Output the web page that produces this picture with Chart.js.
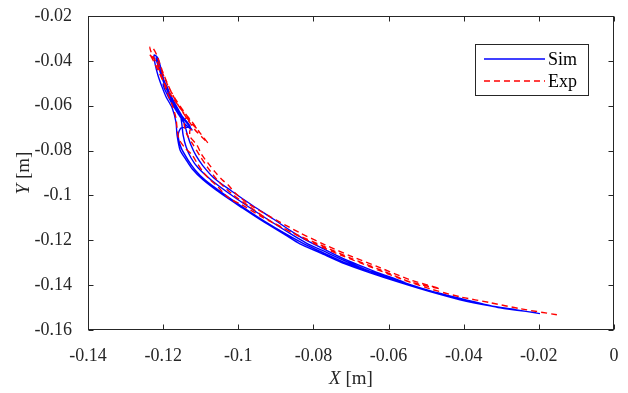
<!DOCTYPE html>
<html>
<head>
<meta charset="utf-8">
<script src="https://cdn.jsdelivr.net/npm/chart.js@4/dist/chart.umd.min.js"></script>
<style>
html,body{margin:0;padding:0;background:#fff;}
canvas{display:block;}
</style>
</head>
<body>
<canvas id="c" width="628" height="393"></canvas>
<script>
// ---- data ----
const seriesNames = ['Sim', 'Exp'];
const xTickValues = [-0.14, -0.12, -0.1, -0.08, -0.06, -0.04, -0.02, 0];
const xTickLabels = ['-0.14', '-0.12', '-0.1', '-0.08', '-0.06', '-0.04', '-0.02', '0'];
const yTickValues = [-0.16, -0.14, -0.12, -0.1, -0.08, -0.06, -0.04, -0.02];
const yTickLabels = ['-0.16', '-0.14', '-0.12', '-0.1', '-0.08', '-0.06', '-0.04', '-0.02'];
const xTitle = ['X', ' [m]'];
const yTitle = ['Y', ' [m]'];

const simX = [
  -0.0197,-0.0263,-0.0330,-0.0410,-0.0490,-0.0569,-0.0649,-0.0716,-0.0782,-0.0836,-0.0876,-0.0937,-0.0990,-0.1049,-0.1094,-0.1123,-0.1139,-0.1155,-0.1163,-0.1166,
  -0.1176,-0.1192,-0.1203,-0.1214,-0.1222,-0.1224,-0.1216,-0.1211,-0.1203,-0.1192,-0.1179,-0.1163,-0.1144,-0.1123,-0.1142,-0.1160,-0.1179,-0.1195,-0.1200,-0.1192,-0.1182,-0.1168,-0.1155,-0.1150,
  -0.1147,-0.1139,-0.1126,-0.1107,-0.1073,-0.1027,-0.0969,-0.0916,-0.0857,-0.0820,-0.0769,-0.0705,-0.0639,-0.0556,
  -0.0641,-0.0708,-0.0769,-0.0817,-0.0852,-0.0908,-0.0961,-0.1019,-0.1065,-0.1094,-0.1112,-0.1126,-0.1136,-0.1144,-0.1158,
  -0.1176,-0.1190,-0.1203,-0.1214,-0.1219,-0.1214,-0.1206,-0.1198,-0.1184,-0.1168,-0.1150,-0.1128,-0.1152,
  -0.1160,-0.1152,-0.1134,-0.1115,-0.1089,-0.1043,-0.0985,-0.0932,-0.0870,-0.0830,-0.0780,-0.0716,-0.0663,-0.0596,-0.0490,-0.0396,-0.0303,-0.0207];
const simY = [
  -0.1527,-0.1509,-0.1492,-0.1465,-0.1429,-0.1389,-0.1345,-0.1305,-0.1256,-0.1216,-0.1175,-0.1113,-0.1055,-0.0988,-0.0930,-0.0881,-0.0841,-0.0797,-0.0730,-0.0672,
  -0.0610,-0.0561,-0.0516,-0.0463,-0.0409,-0.0374,-0.0383,-0.0427,-0.0472,-0.0521,-0.0574,-0.0619,-0.0663,-0.0708,-0.0681,-0.0636,-0.0583,-0.0530,-0.0503,-0.0507,-0.0547,-0.0592,-0.0636,-0.0685,
  -0.0730,-0.0783,-0.0832,-0.0877,-0.0930,-0.0988,-0.1055,-0.1113,-0.1175,-0.1211,-0.1251,-0.1300,-0.1345,-0.1389,
  -0.1336,-0.1291,-0.1242,-0.1202,-0.1167,-0.1104,-0.1046,-0.0979,-0.0922,-0.0868,-0.0824,-0.0775,-0.0726,-0.0677,-0.0628,
  -0.0574,-0.0530,-0.0476,-0.0418,-0.0387,-0.0387,-0.0432,-0.0485,-0.0539,-0.0592,-0.0645,-0.0694,-0.0699,
  -0.0730,-0.0788,-0.0841,-0.0886,-0.0930,-0.0988,-0.1055,-0.1113,-0.1175,-0.1211,-0.1251,-0.1300,-0.1331,-0.1367,-0.1425,-0.1465,-0.1501,-0.1523];

const expX = [-0.0152,-0.0250,-0.0330,-0.0410,-0.0490,-0.0569,-0.0649,-0.0729,-0.0796,-0.0862,-0.0942,-0.0990,-0.1017,-0.1035,-0.1054,-0.1075,-0.1094,-0.1110,-0.1123,-0.1142,
  -0.1158,-0.1163,-0.1166,-0.1176,-0.1192,-0.1208,-0.1222,-0.1232,-0.1235,-0.1227,-0.1216,-0.1203,-0.1187,-0.1168,-0.1152,-0.1134,-0.1115,-0.1097,-0.1081,
  -0.1102,-0.1123,-0.1144,-0.1166,-0.1187,-0.1203,-0.1216,-0.1232,-0.1238,-0.1230,-0.1214,-0.1195,-0.1176,-0.1155,-0.1136,-0.1120,-0.1112,-0.1128,
  -0.1128,-0.1110,-0.1097,-0.1081,-0.1062,-0.1043,-0.1027,-0.1009,-0.0977,-0.0942,-0.0900,-0.0836,-0.0769,-0.0697,-0.0623,-0.0543,-0.0463,
  -0.0543,-0.0623,-0.0703,-0.0782,-0.0849,-0.0916,-0.0969,-0.1017,-0.1054,-0.1081,-0.1102,-0.1120,-0.1136,-0.1144,-0.1139,-0.1123,-0.1107];
const expY = [-0.1532,-0.1505,-0.1478,-0.1452,-0.1416,-0.1371,-0.1318,-0.1265,-0.1216,-0.1162,-0.1091,-0.1042,-0.1020,-0.0997,-0.0962,-0.0930,-0.0895,-0.0855,-0.0819,-0.0788,
  -0.0748,-0.0699,-0.0654,-0.0596,-0.0530,-0.0449,-0.0396,-0.0360,-0.0338,-0.0343,-0.0378,-0.0441,-0.0507,-0.0574,-0.0619,-0.0663,-0.0708,-0.0739,-0.0766,
  -0.0721,-0.0672,-0.0628,-0.0574,-0.0512,-0.0449,-0.0405,-0.0378,-0.0369,-0.0387,-0.0441,-0.0507,-0.0561,-0.0610,-0.0650,-0.0685,-0.0699,-0.0708,
  -0.0739,-0.0775,-0.0819,-0.0855,-0.0895,-0.0930,-0.0953,-0.0988,-0.1033,-0.1069,-0.1109,-0.1167,-0.1220,-0.1273,-0.1322,-0.1376,-0.1416,
  -0.1385,-0.1331,-0.1278,-0.1220,-0.1171,-0.1113,-0.1051,-0.0993,-0.0935,-0.0877,-0.0824,-0.0775,-0.0730,-0.0685,-0.0654,-0.0681,-0.0708];

// ---- styling ----
const FONT = '"Liberation Serif", "Times New Roman", serif';
const AXIS_COLOR = '#262626';
const toPts = (xs, ys) => xs.map((v, i) => ({x: v, y: ys[i]}));

const framePlugin = {
  id: 'frame',
  afterDraw(chart) {
    const {ctx, chartArea, scales} = chart;
    const {left, right, top, bottom} = chartArea;
    const L = Math.round(left) + 0.5, R = Math.round(right) - 0.5;
    const T = Math.round(top) + 0.5, B = Math.round(bottom) - 0.5;
    ctx.save();
    ctx.strokeStyle = AXIS_COLOR;
    ctx.lineWidth = 1;
    ctx.strokeRect(L, T, R - L, B - T);
    const tl = 5;
    ctx.beginPath();
    scales.x.ticks.forEach(t => {
      const px = Math.round(scales.x.getPixelForValue(t.value)) + 0.5;
      ctx.moveTo(px, B); ctx.lineTo(px, B - tl);
      ctx.moveTo(px, T); ctx.lineTo(px, T + tl);
    });
    scales.y.ticks.forEach(t => {
      const py = Math.round(scales.y.getPixelForValue(t.value)) + 0.5;
      ctx.moveTo(L, py); ctx.lineTo(L + tl, py);
      ctx.moveTo(R, py); ctx.lineTo(R - tl, py);
    });
    ctx.stroke();

    // axis titles (italic variable + upright unit)
    ctx.fillStyle = AXIS_COLOR;
    ctx.textBaseline = 'alphabetic';
    const drawTitle = (parts, cx, cy) => {
      ctx.font = 'italic 19px ' + FONT;
      const w0 = ctx.measureText(parts[0]).width;
      ctx.font = '19px ' + FONT;
      const w1 = ctx.measureText(parts[1]).width;
      let x0 = cx - (w0 + w1) / 2;
      ctx.font = 'italic 19px ' + FONT;
      ctx.fillText(parts[0], x0, cy);
      ctx.font = '19px ' + FONT;
      ctx.fillText(parts[1], x0 + w0, cy);
    };
    drawTitle(xTitle, (L + R) / 2, 384);
    ctx.save();
    ctx.translate(29, (T + B) / 2);
    ctx.rotate(-Math.PI / 2);
    drawTitle(yTitle, 0, 0);
    ctx.restore();

    // legend box
    const bx = 475.5, by = 44.5, bw = 113, bh = 51;
    ctx.fillStyle = '#fff';
    ctx.fillRect(bx, by, bw, bh);
    ctx.strokeStyle = AXIS_COLOR;
    ctx.strokeRect(bx, by, bw, bh);
    const legendOrder = [0, 1];
    legendOrder.forEach((di, i) => {
      const ds = chart.data.datasets[di];
      const ly = 59 + i * 22;
      ctx.save();
      ctx.strokeStyle = ds.borderColor;
      ctx.lineWidth = ds.borderWidth;
      ctx.setLineDash(ds.borderDash || []);
      ctx.beginPath();
      ctx.moveTo(484, ly); ctx.lineTo(545, ly);
      ctx.stroke();
      ctx.restore();
      ctx.fillStyle = '#000';
      ctx.font = '18px ' + FONT;
      ctx.textBaseline = 'middle';
      ctx.fillText(ds.label, 548, ly + 1);
    });
    ctx.restore();
  }
};

new Chart(document.getElementById('c'), {
  type: 'scatter',
  data: {
    datasets: [
      {label: seriesNames[0], data: toPts(simX, simY), showLine: true, borderColor: '#0000ff', borderWidth: 1.4, pointRadius: 0, tension: 0.25, fill: false, order: 2},
      {label: seriesNames[1], data: toPts(expX, expY), showLine: true, borderColor: '#ff0000', borderWidth: 1.4, borderDash: [6, 4], pointRadius: 0, tension: 0.25, fill: false, order: 1}
    ]
  },
  options: {
    responsive: false,
    animation: false,
    layout: {padding: {left: 0, right: 14, top: 16, bottom: 0}},
    plugins: {legend: {display: false}, tooltip: {enabled: false}},
    scales: {
      x: {
        type: 'linear', min: -0.14, max: 0,
        afterBuildTicks: s => { s.ticks = xTickValues.map(v => ({value: v})); },
        afterFit: s => { s.height = 63; s.paddingLeft = 0; s.paddingRight = 0; },
        ticks: {
          callback: v => { const i = xTickValues.findIndex(t => Math.abs(t - v) < 1e-9); return i >= 0 ? xTickLabels[i] : ''; },
          font: {family: FONT, size: 18}, color: AXIS_COLOR, padding: 7, maxRotation: 0, autoSkip: false
        },
        grid: {display: false},
        border: {display: false}
      },
      y: {
        type: 'linear', min: -0.16, max: -0.02,
        afterBuildTicks: s => { s.ticks = yTickValues.map(v => ({value: v})); },
        afterFit: s => { s.width = 88; s.paddingTop = 0; s.paddingBottom = 0; },
        ticks: {
          callback: v => { const i = yTickValues.findIndex(t => Math.abs(t - v) < 1e-9); return i >= 0 ? yTickLabels[i] : ''; },
          font: {family: FONT, size: 18}, color: AXIS_COLOR, padding: 8, autoSkip: false
        },
        grid: {display: false},
        border: {display: false}
      }
    }
  },
  plugins: [framePlugin]
});
</script>
</body>
</html>
